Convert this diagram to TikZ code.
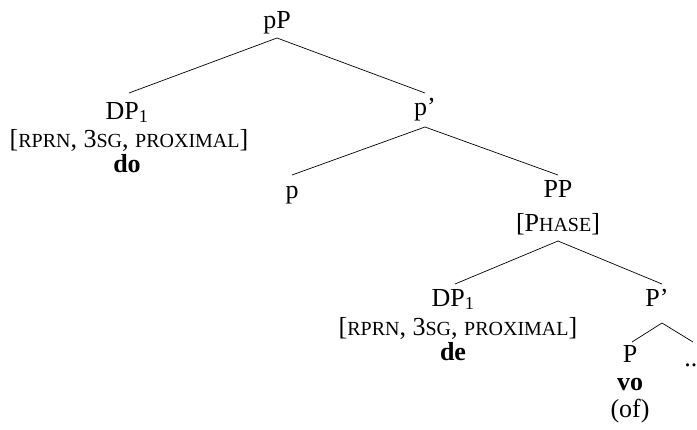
\documentclass[tikz,border=0pt]{standalone}
\usepackage{fontspec}
\setmainfont{Liberation Serif}
\newcommand\fsc[1]{{\fontsize{20pt}{22pt}\selectfont #1}}
\begin{document}
\begin{tikzpicture}[x=1pt,y=-1pt,
  lab/.style={anchor=base,inner sep=0pt,font=\fontsize{26pt}{30pt}\selectfont},
  br/.style={line width=0.7pt}]
\useasboundingbox (0,0) rectangle (697,429);
% nodes
\node[lab] (pP)  at (277,28) {pP};
\node[lab] (DPa) at (127,119) {DP\textsubscript{1}};
\node[lab] (Fa)  at (129,147) {[\fsc{RPRN}, 3\fsc{SG}, \fsc{PROXIMAL}]};
\node[lab] (do)  at (127,172) {\textbf{do}};
\node[lab] (pb)  at (425,115) {p'};
\node[lab] (p)   at (292,198) {p};
\node[lab] (PP)  at (558,197) {PP};
\node[lab] (Ph)  at (558,231) {[P\fsc{HASE}]};
\node[lab] (DPb) at (453,306) {DP\textsubscript{1}};
\node[lab] (Fb)  at (458,335) {[\fsc{RPRN}, 3\fsc{SG}, \fsc{PROXIMAL}]};
\node[lab] (de)  at (453,360) {\textbf{de}};
\node[lab] (Pb)  at (657,306) {P'};
\node[lab] (P)   at (630,362) {P};
\node[lab] (vo)  at (630,390) {\textbf{vo}};
\node[lab] (of)  at (630,417) {(of)};
\node[lab] (dots) at (694,366) {...};
% edges
\draw[br] ([yshift=-10pt]pP.base) -- ([yshift=26pt,xshift=2pt]DPa.base);
\draw[br] ([yshift=-10pt]pP.base) -- ([yshift=22pt]pb.base);
\draw[br] ([yshift=-12pt]pb.base) -- ([yshift=23pt]p.base);
\draw[br] ([yshift=-12pt]pb.base) -- ([yshift=22pt]PP.base);
\draw[br] ([yshift=-10pt]Ph.base) -- ([yshift=22pt,xshift=2pt]DPb.base);
\draw[br] ([yshift=-10pt]Ph.base) -- ([yshift=22pt,xshift=5pt]Pb.base);
\draw[br] ([yshift=-17pt,xshift=5pt]Pb.base) -- ([yshift=20pt,xshift=2pt]P.base);
\draw[br] ([yshift=-17pt,xshift=5pt]Pb.base) -- ([yshift=24pt,xshift=-1pt]dots.base);
\end{tikzpicture}
\end{document}
